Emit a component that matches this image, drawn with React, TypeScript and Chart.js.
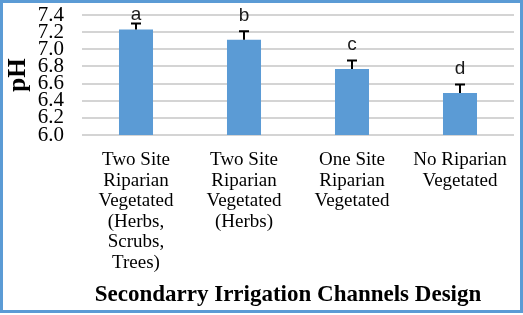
import React, { useEffect, useRef } from "react";
import { Chart, registerables } from "chart.js";

Chart.register(...registerables);

const categories: string[][] = [
  ["Two Site", "Riparian", "Vegetated", "(Herbs,", "Scrubs,", "Trees)"],
  ["Two Site", "Riparian", "Vegetated", "(Herbs)"],
  ["One Site", "Riparian", "Vegetated"],
  ["No Riparian", "Vegetated"],
];
const phValues: number[] = [7.23, 7.11, 6.77, 6.49];
const phErrors: number[] = [0.07, 0.1, 0.1, 0.1];
const letters: string[] = ["a", "b", "c", "d"];
const yMin = 6.0;
const yMax = 7.4;
const yStep = 0.2;
const yTitle = "pH";
const xTitle = "Secondarry Irrigation Channels Design";

const SERIF = "'Liberation Serif', 'Times New Roman', serif";
const SANS = "'Liberation Sans', Arial, sans-serif";
const BLUE = "#5B9BD5";

const errorBarPlugin = {
  id: "errorBars",
  afterDatasetsDraw(chart: any) {
    const { ctx, chartArea } = chart;
    const meta = chart.getDatasetMeta(0);
    const y = chart.scales.y;
    ctx.save();
    meta.data.forEach((bar: any, i: number) => {
      const x = bar.x;
      const yTop = y.getPixelForValue(phValues[i] + phErrors[i]);
      const yBar = y.getPixelForValue(phValues[i]);
      ctx.strokeStyle = "#000";
      ctx.lineWidth = 2;
      ctx.beginPath();
      ctx.moveTo(x, yBar);
      ctx.lineTo(x, yTop);
      ctx.moveTo(x - 5, yTop);
      ctx.lineTo(x + 5, yTop);
      ctx.stroke();
      ctx.fillStyle = "#1a1a1a";
      ctx.font = `19px ${SANS}`;
      ctx.textAlign = "center";
      ctx.textBaseline = "alphabetic";
      const base = Math.max(yTop - 10, chartArea.top + 5);
      ctx.fillText(letters[i], x, base);
    });
    ctx.restore();
  },
};

const xTitlePlugin = {
  id: "xTitle",
  afterDraw(chart: any) {
    const { ctx, chartArea } = chart;
    ctx.save();
    ctx.fillStyle = "#000";
    ctx.font = `bold 23px ${SERIF}`;
    ctx.textAlign = "center";
    ctx.textBaseline = "middle";
    ctx.fillText(xTitle, (chartArea.left + chartArea.right) / 2 - 10, chart.height - 20);
    ctx.restore();
  },
};

export default function App() {
  const ref = useRef<HTMLCanvasElement | null>(null);
  useEffect(() => {
    if (!ref.current) return;
    const chart = new Chart(ref.current, {
      type: "bar",
      data: {
        labels: categories,
        datasets: [
          {
            data: phValues,
            backgroundColor: BLUE,
            borderWidth: 0,
            categoryPercentage: 1,
            barPercentage: 0.315,
          },
        ],
      },
      options: {
        animation: false,
        responsive: false,
        devicePixelRatio: 1,
        layout: { padding: { top: 15, right: 9, left: 0, bottom: 0 } },
        plugins: { legend: { display: false }, tooltip: { enabled: false }, title: { display: false } },
        scales: {
          x: {
            grid: { display: false, drawTicks: false },
            border: { display: false },
            ticks: {
              color: "#000",
              font: { family: SERIF, size: 19, lineHeight: 1.08 },
              padding: 15,
              maxRotation: 0,
              autoSkip: false,
            },
            afterFit: (s: any) => {
              s.height = 180;
              s.paddingLeft = 0;
              s.paddingRight = 0;
            },
          },
          y: {
            min: yMin,
            max: yMax,
            grid: { color: "#d4d4d4", lineWidth: 2, drawTicks: false },
            border: { display: false },
            ticks: {
              stepSize: yStep,
              autoSkip: false,
              color: "#000",
              font: { family: SERIF, size: 21, lineHeight: 1.0 },
              padding: 18,
              callback: (v: any) => Number(v).toFixed(1),
            },
            title: {
              display: true,
              text: yTitle,
              color: "#000",
              font: { family: SERIF, size: 25, weight: "bold", lineHeight: 1.2 },
              padding: { top: 4, bottom: 0 },
            },
            afterFit: (s: any) => {
              s.width = 82;
              s.paddingTop = 0;
              s.paddingBottom = 0;
            },
          },
        },
      },
      plugins: [errorBarPlugin, xTitlePlugin],
    });
    return () => chart.destroy();
  }, []);
  return (
    <div style={{ position: "fixed", top: 0, left: 0, width: 523, height: 315, background: "#fff" }}>
      <canvas ref={ref} width={523} height={315} style={{ width: 523, height: 315, display: "block" }} />
      <div
        style={{
          position: "absolute",
          top: 0,
          left: 0,
          width: 523,
          height: 313,
          border: `3px solid ${BLUE}`,
          boxSizing: "border-box",
          pointerEvents: "none",
        }}
      />
    </div>
  );
}
